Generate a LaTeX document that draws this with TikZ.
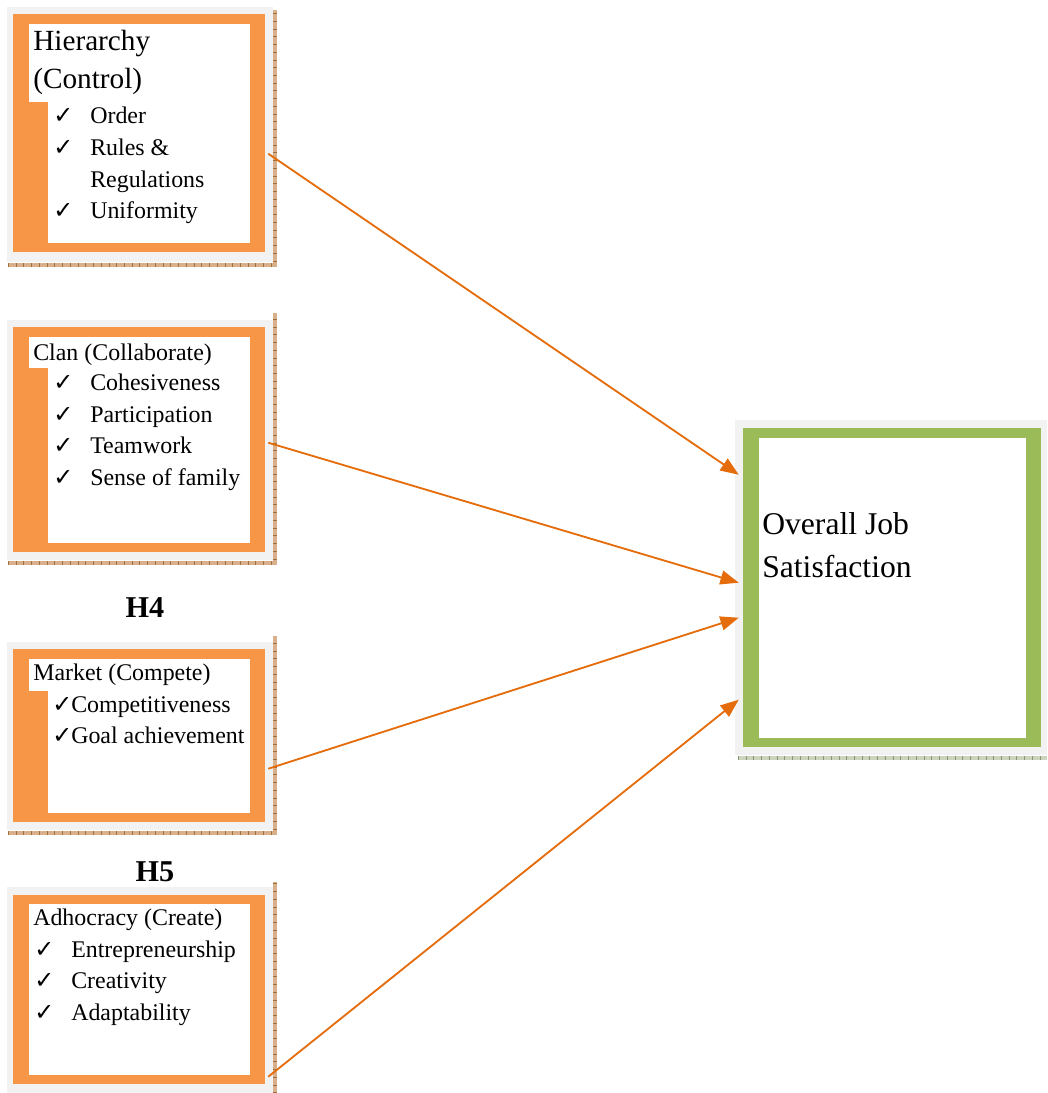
\documentclass[tikz,border=0pt]{standalone}
\usepackage{fontspec}
\setmainfont{Liberation Serif}
\newfontfamily\chkfont{DejaVu Sans}
\usetikzlibrary{arrows.meta,fit}

\definecolor{shadegray}{HTML}{F2F2F2}
\definecolor{frameorange}{HTML}{F79646}
\definecolor{framegreen}{HTML}{9BBB59}
\definecolor{arroworange}{HTML}{E46C0A}
\definecolor{ticktan}{HTML}{D8B08C}
\definecolor{tickbrown}{HTML}{A0703C}
\definecolor{tickgreen}{HTML}{CDD4BE}
\definecolor{tickgray}{HTML}{8C9478}

\tikzset{
  frame/.style={inner sep=0pt, fill=shadegray, draw=none},
  title/.style={anchor=base west, inner sep=0pt, align=left,
    font=\fontsize{20.8}{27}\selectfont},
  item/.style={anchor=base west, inner sep=0pt, font=\fontsize{17}{22.5}\selectfont},
  chk/.style={anchor=base west, inner sep=0pt, font=\chkfont\bfseries\fontsize{17}{17}\selectfont},
  hyp/.style={anchor=base, inner sep=0pt, font=\fontsize{21.5}{25}\selectfont\bfseries},
  tickline/.style={line width=3pt, ticktan,
    postaction={draw=tickbrown, line width=3pt, dash pattern=on 0.5pt off 5pt}},
  greentick/.style={line width=3pt, tickgreen,
    postaction={draw=tickgray, line width=3pt, dash pattern=on 0.5pt off 5pt}},
  conn/.style={draw=arroworange, line width=1.3pt,
    -{Triangle[length=13pt,width=10pt]}},
}

\begin{document}
\begin{tikzpicture}[x=0.025cm,y=-0.025cm]
  \useasboundingbox (0,0) rectangle (1047,1093);

  % Hierarchy
  \draw[tickline] (8,265) -- (275,265) -- (275,10);
  \node[frame, fit={(7,7) (273,262)}] (hier) {};
  \fill[frameorange] (13,14) rectangle (265,252);
  \fill[white] (29,24) rectangle (250,102);
  \fill[white] (48,24) rectangle (250,243);
  \node[title] (hiert) at (33,88) {Hierarchy\\(Control)};
  \foreach \y [count=\i] in {123,155,218}
    \node[chk] (hierc\i) at (53,\y) {✓};
  \foreach \y/\txt [count=\i] in {123/Order,155/Rules \&,187/Regulations,218/Uniformity}
    \node[item] (hieri\i) at (90,\y) {\txt};

  % Clan
  \draw[tickline] (8,563) -- (275,563) -- (275,313);
  \node[frame, fit={(7,320) (273,560)}] (clan) {};
  \fill[frameorange] (13,327) rectangle (265,552);
  \fill[white] (29,337) rectangle (250,368);
  \fill[white] (48,337) rectangle (250,543);
  \node[item] (clant) at (33,360) {Clan (Collaborate)};
  \foreach \y/\txt [count=\i] in {390/Cohesiveness,422/Participation,453/Teamwork,485/Sense of family}{
    \node[chk] (clanc\i) at (53,\y) {✓};
    \node[item] (clani\i) at (90,\y) {\txt};
  }

  \node[hyp] (hfour) at (145,617) {H4};

  % Market
  \draw[tickline] (8,833) -- (275,833) -- (275,636);
  \node[frame, fit={(7,642) (273,830)}] (market) {};
  \fill[frameorange] (13,649) rectangle (265,822);
  \fill[white] (29,659) rectangle (250,691);
  \fill[white] (48,659) rectangle (250,813);
  \node[item] (markett) at (33,680) {Market (Compete)};
  \foreach \y/\txt [count=\i] in {712/Competitiveness,743/Goal achievement}{
    \node[chk] (marketc\i) at (52,\y) {✓};
    \node[item] (marketi\i) at (71,\y) {\txt};
  }

  \node[hyp] (hfive) at (155,881) {H5};

  % Adhocracy
  \draw[tickline] (275,1093) -- (275,882);
  \node[frame, fit={(7,887) (273,1093)}] (adhoc) {};
  \fill[frameorange] (13,895) rectangle (265,1084);
  \fill[white] (29,904) rectangle (250,1075);
  \node[item] (adhoct) at (33,925) {Adhocracy (Create)};
  \foreach \y/\txt [count=\i] in {957/Entrepreneurship,988/Creativity,1020/Adaptability}{
    \node[chk] (adhocc\i) at (34,\y) {✓};
    \node[item] (adhoci\i) at (71,\y) {\txt};
  }

  % Overall job satisfaction
  \draw[greentick] (738,758) -- (1047,758);
  \node[frame, fit={(735,420) (1047,755)}] (sat) {};
  \fill[framegreen] (743,428) rectangle (1041,747);
  \fill[white] (759,438) rectangle (1026,738);
  \node[title, font=\fontsize{22.5}{30}\selectfont] (satt) at (762,577) {Overall Job\\Satisfaction};

  % connectors
  \draw[conn] ([shift={(-5,147)}]hier.north east) -- ([shift={(4,55)}]sat.north west);
  \draw[conn] ([shift={(-5,123)}]clan.north east) -- ([shift={(4,163)}]sat.north west);
  \draw[conn] ([shift={(-5,127)}]market.north east) -- ([shift={(4,198)}]sat.north west);
  \draw[conn] ([shift={(-5,190)}]adhoc.north east) -- ([shift={(4,280)}]sat.north west);
\end{tikzpicture}
\end{document}
